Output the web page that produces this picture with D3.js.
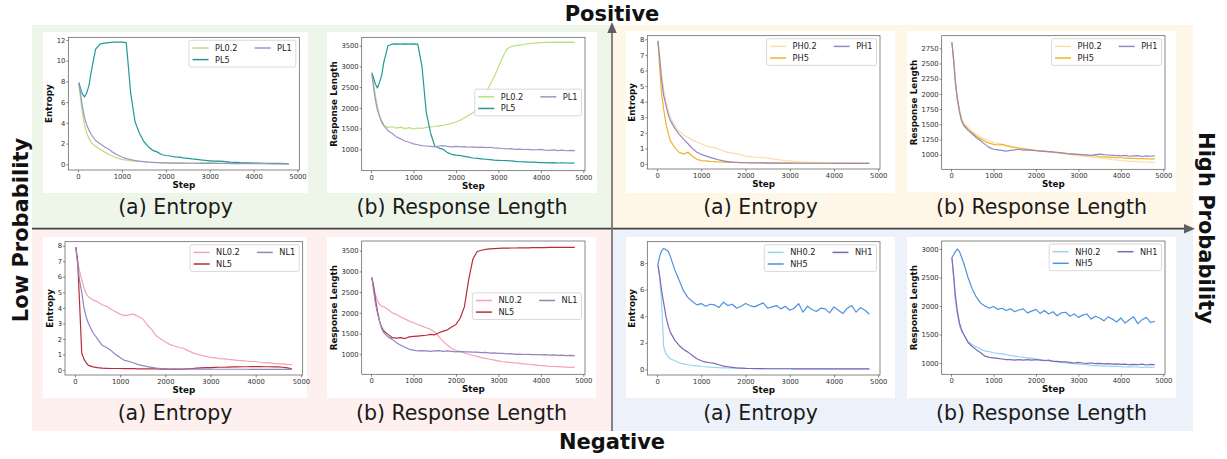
<!DOCTYPE html>
<html>
<head>
<meta charset="utf-8">
<script src="https://cdn.jsdelivr.net/npm/d3@7"></script>
<style>
  body { margin: 0; background: #fff; }
  text { font-family: "DejaVu Sans", sans-serif; }
</style>
</head>
<body>
<svg id="fig" width="1227" height="459"></svg>
<script>
// training steps shared by every curve
const steps = [20, 60, 100, 150, 200, 250, 300, 400, 500, 600, 700, 800, 900, 1000, 1100, 1200, 1300, 1400, 1500, 1600, 1700, 1800, 1900, 2000, 2100, 2200, 2300, 2400, 2500, 2600, 2700, 2800, 2900, 3000, 3100, 3200, 3300, 3400, 3500, 3600, 3700, 3800, 3900, 4000, 4100, 4200, 4300, 4400, 4500, 4600, 4700, 4800];

// Positive / Low probability
const plEnt02 = [7.8, 6.3, 5.0, 3.8, 3.0, 2.5, 2.1, 1.75, 1.45, 1.2, 0.95, 0.75, 0.6, 0.48, 0.4, 0.35, 0.3, 0.27, 0.25, 0.22, 0.2, 0.18, 0.17, 0.15, 0.14, 0.14, 0.13, 0.12, 0.12, 0.11, 0.12, 0.13, 0.15, 0.18, 0.22, 0.28, 0.33, 0.2, 0.14, 0.12, 0.1, 0.1, 0.09, 0.09, 0.08, 0.08, 0.07, 0.07, 0.07, 0.06, 0.06, 0.05];
const plEnt1 = [7.8, 6.8, 5.6, 4.5, 3.8, 3.3, 2.9, 2.3, 2.0, 1.7, 1.45, 1.15, 0.9, 0.7, 0.55, 0.45, 0.36, 0.3, 0.25, 0.21, 0.18, 0.16, 0.14, 0.13, 0.12, 0.12, 0.11, 0.11, 0.1, 0.1, 0.1, 0.09, 0.09, 0.09, 0.08, 0.08, 0.08, 0.08, 0.07, 0.07, 0.07, 0.07, 0.06, 0.06, 0.06, 0.06, 0.06, 0.05, 0.05, 0.05, 0.05, 0.05];
const plEnt5 = [7.9, 7.3, 6.8, 6.5, 6.9, 7.6, 8.9, 11.1, 11.6, 11.7, 11.75, 11.8, 11.8, 11.8, 11.75, 6.9, 4.1, 3.0, 2.2, 1.7, 1.35, 1.2, 0.95, 0.85, 0.8, 0.72, 0.7, 0.62, 0.58, 0.52, 0.47, 0.42, 0.38, 0.34, 0.3, 0.3, 0.27, 0.24, 0.2, 0.18, 0.16, 0.15, 0.14, 0.12, 0.11, 0.1, 0.1, 0.09, 0.08, 0.08, 0.07, 0.06];
const plLen02 = [2800, 2600, 2300, 2050, 1800, 1640, 1570, 1530, 1545, 1510, 1535, 1500, 1525, 1490, 1515, 1505, 1530, 1540, 1550, 1565, 1580, 1600, 1630, 1660, 1700, 1760, 1820, 1880, 1970, 2150, 2350, 2550, 2750, 2980, 3220, 3420, 3480, 3500, 3515, 3530, 3550, 3560, 3570, 3575, 3580, 3580, 3585, 3580, 3585, 3580, 3585, 3580];
const plLen1 = [2800, 2500, 2200, 1950, 1800, 1680, 1580, 1450, 1380, 1300, 1250, 1200, 1170, 1130, 1110, 1090, 1080, 1070, 1060, 1080, 1090, 1070, 1060, 1070, 1060, 1065, 1050, 1060, 1045, 1055, 1040, 1050, 1035, 1030, 1020, 1010, 1015, 1000, 1005, 995, 1000, 985, 990, 1000, 980, 975, 985, 970, 980, 965, 975, 970];
const plLen5 = [2850, 2720, 2580, 2480, 2620, 2780, 3100, 3500, 3540, 3545, 3540, 3545, 3540, 3545, 3540, 3000, 1900, 1400, 1080, 1030, 1000, 920, 880, 860, 850, 830, 810, 790, 780, 770, 760, 750, 740, 735, 730, 725, 720, 710, 700, 695, 690, 690, 685, 680, 680, 675, 680, 670, 675, 670, 665, 670];

// Positive / High probability
const phEnt02 = [7.9, 6.9, 5.8, 4.8, 4.0, 3.5, 3.0, 2.5, 2.1, 1.85, 1.7, 1.55, 1.4, 1.3, 1.15, 1.1, 1.05, 0.95, 0.85, 0.75, 0.7, 0.65, 0.6, 0.5, 0.48, 0.45, 0.42, 0.4, 0.38, 0.33, 0.3, 0.25, 0.22, 0.2, 0.17, 0.15, 0.13, 0.12, 0.1, 0.1, 0.09, 0.08, 0.08, 0.07, 0.07, 0.08, 0.07, 0.06, 0.06, 0.05, 0.05, 0.05];
const phEnt1 = [7.9, 6.8, 5.5, 4.4, 3.8, 3.2, 2.8, 2.3, 1.9, 1.6, 1.3, 1.0, 0.75, 0.62, 0.52, 0.43, 0.35, 0.26, 0.2, 0.15, 0.12, 0.1, 0.09, 0.08, 0.07, 0.07, 0.07, 0.07, 0.06, 0.06, 0.06, 0.06, 0.06, 0.06, 0.05, 0.05, 0.05, 0.05, 0.05, 0.05, 0.05, 0.05, 0.05, 0.04, 0.04, 0.04, 0.04, 0.04, 0.04, 0.04, 0.04, 0.04];
const phEnt5 = [7.9, 6.2, 4.6, 3.5, 2.6, 2.0, 1.5, 1.05, 0.75, 0.65, 0.75, 0.5, 0.3, 0.22, 0.2, 0.17, 0.15, 0.13, 0.12, 0.11, 0.1, 0.1, 0.09, 0.09, 0.08, 0.08, 0.08, 0.07, 0.07, 0.07, 0.07, 0.06, 0.06, 0.06, 0.06, 0.06, 0.05, 0.05, 0.05, 0.05, 0.05, 0.05, 0.05, 0.05, 0.04, 0.04, 0.04, 0.04, 0.04, 0.04, 0.04, 0.04];
const phLen02 = [2850, 2600, 2250, 1950, 1750, 1600, 1520, 1450, 1380, 1330, 1290, 1260, 1230, 1200, 1190, 1170, 1150, 1140, 1120, 1110, 1100, 1090, 1080, 1070, 1060, 1050, 1045, 1035, 1030, 1020, 1010, 1000, 990, 985, 975, 970, 960, 950, 945, 935, 930, 920, 915, 905, 900, 895, 890, 885, 880, 880, 875, 870];
const phLen1 = [2850, 2550, 2200, 1900, 1700, 1550, 1480, 1400, 1340, 1280, 1230, 1170, 1120, 1090, 1080, 1070, 1060, 1070, 1080, 1090, 1075, 1080, 1070, 1065, 1060, 1055, 1050, 1045, 1040, 1030, 1020, 1015, 1010, 1005, 1000, 995, 990, 1000, 1010, 1000, 995, 990, 985, 980, 990, 975, 980, 985, 970, 980, 975, 980];
const phLen5 = [2850, 2580, 2220, 1920, 1720, 1560, 1500, 1420, 1360, 1300, 1260, 1220, 1190, 1170, 1160, 1170, 1150, 1130, 1120, 1110, 1100, 1090, 1080, 1070, 1065, 1060, 1050, 1040, 1035, 1030, 1025, 1015, 1010, 1000, 995, 990, 985, 980, 970, 965, 960, 955, 950, 950, 945, 940, 940, 935, 935, 930, 930, 930];

// Negative / Low probability
const nlEnt02 = [7.9, 7.0, 6.4, 5.8, 5.3, 4.9, 4.7, 4.5, 4.4, 4.2, 4.1, 3.9, 3.75, 3.6, 3.5, 3.55, 3.6, 3.45, 3.3, 2.9, 2.6, 2.2, 2.0, 1.8, 1.65, 1.55, 1.45, 1.4, 1.25, 1.12, 1.02, 0.95, 0.88, 0.82, 0.78, 0.74, 0.72, 0.68, 0.65, 0.62, 0.6, 0.58, 0.55, 0.55, 0.5, 0.48, 0.46, 0.43, 0.4, 0.4, 0.37, 0.35];
const nlEnt1 = [7.9, 6.8, 5.8, 5.0, 4.0, 3.4, 3.0, 2.4, 2.0, 1.6, 1.45, 1.25, 1.0, 0.8, 0.62, 0.55, 0.45, 0.35, 0.28, 0.22, 0.17, 0.13, 0.1, 0.09, 0.08, 0.08, 0.07, 0.07, 0.07, 0.06, 0.06, 0.06, 0.06, 0.06, 0.05, 0.05, 0.05, 0.05, 0.05, 0.05, 0.05, 0.05, 0.04, 0.04, 0.04, 0.04, 0.04, 0.04, 0.04, 0.04, 0.04, 0.04];
const nlEnt5 = [7.9, 7.0, 4.5, 1.1, 0.7, 0.45, 0.3, 0.2, 0.15, 0.12, 0.11, 0.1, 0.1, 0.1, 0.09, 0.09, 0.09, 0.08, 0.08, 0.08, 0.07, 0.07, 0.06, 0.05, 0.05, 0.04, 0.05, 0.06, 0.08, 0.1, 0.12, 0.14, 0.15, 0.16, 0.17, 0.18, 0.18, 0.19, 0.2, 0.2, 0.21, 0.21, 0.22, 0.22, 0.22, 0.21, 0.21, 0.2, 0.2, 0.18, 0.14, 0.08];
const nlLen02 = [2850, 2600, 2450, 2300, 2200, 2160, 2150, 2080, 2000, 1960, 1900, 1850, 1800, 1760, 1720, 1680, 1640, 1600, 1540, 1420, 1310, 1220, 1140, 1090, 1060, 1030, 1000, 970, 950, 920, 900, 880, 860, 840, 820, 810, 800, 790, 780, 770, 760, 750, 740, 730, 720, 710, 705, 700, 695, 690, 685, 690];
const nlLen1 = [2850, 2550, 2250, 2000, 1800, 1620, 1520, 1420, 1360, 1280, 1220, 1170, 1120, 1100, 1080, 1090, 1080, 1070, 1080, 1090, 1070, 1080, 1070, 1060, 1070, 1060, 1060, 1050, 1050, 1040, 1045, 1030, 1035, 1020, 1025, 1010, 1015, 1000, 1005, 995, 1000, 990, 995, 985, 990, 980, 985, 975, 980, 970, 975, 970];
const nlLen5 = [2850, 2650, 2350, 2050, 1800, 1650, 1560, 1480, 1400, 1390, 1400, 1380, 1420, 1430, 1440, 1450, 1460, 1480, 1470, 1520, 1560, 1590, 1660, 1720, 1870, 2150, 2800, 3300, 3480, 3510, 3530, 3545, 3550, 3555, 3560, 3560, 3565, 3565, 3570, 3570, 3570, 3575, 3575, 3575, 3575, 3580, 3580, 3580, 3580, 3580, 3580, 3580];

// Negative / High probability
const nhEnt02 = [7.8, 7.0, 5.2, 1.7, 1.2, 0.95, 0.8, 0.65, 0.5, 0.42, 0.35, 0.3, 0.27, 0.22, 0.2, 0.17, 0.15, 0.13, 0.12, 0.11, 0.1, 0.09, 0.08, 0.08, 0.07, 0.07, 0.06, 0.06, 0.06, 0.05, 0.05, 0.05, 0.05, 0.05, 0.04, 0.04, 0.04, 0.04, 0.04, 0.04, 0.04, 0.04, 0.03, 0.03, 0.03, 0.03, 0.03, 0.03, 0.03, 0.03, 0.03, 0.03];
const nhEnt1 = [7.9, 7.0, 6.0, 5.0, 4.0, 3.3, 2.8, 2.2, 1.8, 1.5, 1.3, 1.05, 0.8, 0.65, 0.55, 0.5, 0.45, 0.35, 0.25, 0.2, 0.15, 0.12, 0.1, 0.08, 0.07, 0.06, 0.06, 0.06, 0.05, 0.05, 0.05, 0.05, 0.05, 0.05, 0.04, 0.04, 0.04, 0.04, 0.04, 0.04, 0.04, 0.04, 0.04, 0.04, 0.04, 0.04, 0.04, 0.04, 0.04, 0.04, 0.04, 0.04];
const nhEnt5 = [7.9, 8.5, 8.9, 9.1, 9.0, 8.9, 8.5, 7.5, 6.7, 5.9, 5.4, 5.1, 4.85, 4.95, 4.75, 4.9, 4.85, 4.65, 5.05, 4.8, 4.9, 4.6, 4.75, 4.95, 4.8, 4.7, 4.85, 5.0, 4.6, 4.7, 4.8, 4.55, 4.75, 4.45, 4.6, 4.95, 4.3, 4.75, 4.5, 4.35, 4.6, 4.55, 4.25, 4.7, 4.45, 4.2, 4.6, 4.8, 4.3, 4.65, 4.45, 4.15];
const nhLen02 = [2850, 2500, 2100, 1850, 1650, 1550, 1500, 1380, 1320, 1280, 1240, 1210, 1200, 1180, 1170, 1160, 1150, 1130, 1120, 1110, 1100, 1090, 1080, 1070, 1060, 1050, 1040, 1030, 1020, 1010, 1000, 995, 990, 980, 975, 970, 960, 955, 950, 945, 945, 940, 940, 935, 930, 935, 930, 930, 925, 930, 925, 930];
const nhLen1 = [2850, 2550, 2200, 1900, 1700, 1580, 1500, 1360, 1290, 1230, 1180, 1120, 1100, 1090, 1080, 1070, 1060, 1060, 1050, 1060, 1050, 1060, 1050, 1060, 1050, 1040, 1050, 1030, 1030, 1020, 1020, 1010, 1000, 1010, 1000, 995, 1000, 990, 995, 985, 990, 980, 985, 975, 980, 970, 975, 970, 980, 965, 975, 970];
const nhLen5 = [2850, 2900, 2950, 3000, 2950, 2850, 2750, 2500, 2300, 2150, 2050, 2000, 1960, 1990, 1940, 1960, 1920, 1950, 1900, 1930, 1950, 1880, 1910, 1940, 1870, 1920, 1860, 1900, 1830, 1880, 1890, 1820, 1860, 1800, 1840, 1860, 1770, 1820, 1790, 1740, 1810, 1770, 1720, 1790, 1700, 1760, 1810, 1690, 1760, 1800, 1710, 1730];

// tick labels
const stepTicks = [0, 1000, 2000, 3000, 4000, 5000];
const entTicks12 = [0, 2, 4, 6, 8, 10, 12];
const entTicks8 = [0, 1, 2, 3, 4, 5, 6, 7, 8];
const entTicksEven = [0, 2, 4, 6, 8];
const lenTicks3500 = [1000, 1500, 2000, 2500, 3000, 3500];
const lenTicks2750 = [1000, 1250, 1500, 1750, 2000, 2250, 2500, 2750];
const lenTicks3000 = [1000, 1500, 2000, 2500, 3000];

const svg = d3.select("#fig");

// quadrant backgrounds
const quads = [
  { x: 32, y: 25, w: 580, h: 204, fill: "#eef6ea" },
  { x: 612, y: 25, w: 581, h: 204, fill: "#fef6e6" },
  { x: 32, y: 229, w: 580, h: 202, fill: "#fdf0ee" },
  { x: 612, y: 229, w: 581, h: 202, fill: "#edf2fa" }
];
svg.selectAll(".quad").data(quads).enter().append("rect")
  .attr("x", d => d.x).attr("y", d => d.y)
  .attr("width", d => d.w).attr("height", d => d.h)
  .attr("fill", d => d.fill);

const panels = [
  { box: [43, 32, 308, 193], ax: [68.3, 37.3, 299.3, 170], yDom: [-0.55, 12.26], yTicks: entTicks12,
    yLabel: "Entropy", legend: "upper", caption: "(a) Entropy", capY: 214,
    series: [["PL0.2", plEnt02, "#b9e07d"], ["PL5", plEnt5, "#1f9a95"], ["PL1", plEnt1, "#a092c8"]] },
  { box: [327, 32, 597, 193], ax: [361.7, 37.3, 585, 170.7], yDom: [484, 3703], yTicks: lenTicks3500,
    yLabel: "Response Length", legend: "center", caption: "(b) Response Length", capY: 214,
    series: [["PL0.2", plLen02, "#b9e07d"], ["PL5", plLen5, "#1f9a95"], ["PL1", plLen1, "#a092c8"]] },
  { box: [626, 31, 895, 193], ax: [647.3, 35.7, 880, 169], yDom: [-0.32, 8.23], yTicks: entTicks8,
    yLabel: "Entropy", legend: "upper", caption: "(a) Entropy", capY: 214,
    series: [["PH0.2", phEnt02, "#f8e0a5"], ["PH5", phEnt5, "#f1b22c"], ["PH1", phEnt1, "#9687c2"]] },
  { box: [907, 31, 1176, 192], ax: [941.7, 35.7, 1165, 169.3], yDom: [760, 2957], yTicks: lenTicks2750,
    yLabel: "Response Length", legend: "upper", caption: "(b) Response Length", capY: 214,
    series: [["PH0.2", phLen02, "#f8e0a5"], ["PH5", phLen5, "#f1b22c"], ["PH1", phLen1, "#9687c2"]] },
  { box: [43, 237, 307, 398], ax: [65, 241.7, 302.7, 375], yDom: [-0.32, 8.26], yTicks: entTicks8,
    yLabel: "Entropy", legend: "upper", caption: "(a) Entropy", capY: 420,
    series: [["NL0.2", nlEnt02, "#f6a0bb"], ["NL5", nlEnt5, "#b52d3f"], ["NL1", nlEnt1, "#9384be"]] },
  { box: [327, 237, 596, 398], ax: [361.7, 241, 585, 374.3], yDom: [517, 3734], yTicks: lenTicks3500,
    yLabel: "Response Length", legend: "center", caption: "(b) Response Length", capY: 420,
    series: [["NL0.2", nlLen02, "#f6a0bb"], ["NL5", nlLen5, "#b52d3f"], ["NL1", nlLen1, "#9384be"]] },
  { box: [626, 237, 895, 398], ax: [647.3, 241.7, 880, 375], yDom: [-0.42, 9.6], yTicks: entTicksEven,
    yLabel: "Entropy", legend: "upper", caption: "(a) Entropy", capY: 420,
    series: [["NH0.2", nhEnt02, "#95d5ef"], ["NH5", nhEnt5, "#4b93e0"], ["NH1", nhEnt1, "#7e68b5"]] },
  { box: [907, 237, 1176, 398], ax: [941.7, 241, 1165, 374.3], yDom: [802, 3140], yTicks: lenTicks3000,
    yLabel: "Response Length", legend: "upper", caption: "(b) Response Length", capY: 420,
    series: [["NH0.2", nhLen02, "#95d5ef"], ["NH5", nhLen5, "#4b93e0"], ["NH1", nhLen1, "#7e68b5"]] }
];

const plainFmt = d3.format("d");

panels.forEach(function(p, pi) {
  const [bx0, by0, bx1, by1] = p.box;
  const [ax0, ay0, ax1, ay1] = p.ax;
  const g = svg.append("g");

  g.append("rect").attr("x", bx0).attr("y", by0)
    .attr("width", bx1 - bx0).attr("height", by1 - by0).attr("fill", "#fff");

  const x = d3.scaleLinear().domain([-220, 5040]).range([ax0, ax1]);
  const y = d3.scaleLinear().domain(p.yDom).range([ay1, ay0]);

  g.append("clipPath").attr("id", "clip" + pi).append("rect")
    .attr("x", ax0).attr("y", ay0).attr("width", ax1 - ax0).attr("height", ay1 - ay0);

  const line = d3.line()
    .x((d, i) => x(steps[i]))
    .y(d => y(d));

  g.append("g").attr("clip-path", "url(#clip" + pi + ")")
    .selectAll("path").data(p.series).enter().append("path")
    .attr("d", d => line(d[1]))
    .attr("fill", "none")
    .attr("stroke", d => d[2])
    .attr("stroke-width", 1.2)
    .attr("stroke-linejoin", "round");

  // frame
  g.append("rect").attr("x", ax0).attr("y", ay0)
    .attr("width", ax1 - ax0).attr("height", ay1 - ay0)
    .attr("fill", "none").attr("stroke", "#555").attr("stroke-width", 0.7);

  const xAxis = g.append("g").attr("transform", "translate(0," + ay1 + ")")
    .call(d3.axisBottom(x).tickValues(stepTicks).tickFormat(plainFmt).tickSize(2.5).tickPadding(1.5));
  const yAxis = g.append("g").attr("transform", "translate(" + ax0 + ",0)")
    .call(d3.axisLeft(y).tickValues(p.yTicks).tickFormat(plainFmt).tickSize(2).tickPadding(1));
  [xAxis, yAxis].forEach(function(a) {
    a.select(".domain").remove();
    a.selectAll("line").attr("stroke", "#555").attr("stroke-width", 0.7);
    a.selectAll("text").attr("font-family", "DejaVu Sans").attr("font-size", 6.8).attr("fill", "#333");
    a.attr("font-size", null).attr("font-family", null);
  });

  // axis labels
  g.append("text")
    .attr("x", (ax0 + ax1) / 2).attr("y", ay1 + 18)
    .attr("text-anchor", "middle")
    .attr("font-size", 8.8).attr("font-weight", "bold").attr("fill", "#111")
    .text("Step");

  // rotated label: baseline sits on the right, just clear of the tick labels
  const yb = yAxis.node().getBBox();
  const labelBase = ax0 + yb.x - 4.5;
  g.append("text")
    .attr("transform", "translate(" + labelBase + "," + ((ay0 + ay1) / 2) + ") rotate(-90)")
    .attr("text-anchor", "middle")
    .attr("font-size", 8.8).attr("font-weight", "bold").attr("fill", "#111")
    .text(p.yLabel);

  // legend: two columns, first column gets the first two series
  const leg = g.append("g");
  const legBox = leg.append("rect");
  const fs = 8.2, sampleLen = 16;
  const items = leg.selectAll(".item").data(p.series).enter().append("g");
  items.append("line").attr("stroke", d => d[2]).attr("stroke-width", 1.5)
    .attr("x1", 0).attr("x2", sampleLen).attr("y1", 0).attr("y2", 0);
  items.append("text").attr("x", sampleLen + 6.5).attr("dy", "0.36em")
    .attr("font-size", fs).attr("fill", "#222").text(d => d[0]);
  const widths = items.select("text").nodes().map(n => n.getComputedTextLength());
  const col1W = Math.max(widths[0], widths[1]);
  const col2X = 3.5 + sampleLen + 6.5 + col1W + 17;
  const legW = col2X + sampleLen + 6.5 + widths[2] + 4;
  const legH = 26.7;
  items.attr("transform", (d, i) => {
    const cx = i < 2 ? 3.5 : col2X;
    const cy = i === 1 ? 19.3 : 7.7;
    return "translate(" + cx + "," + cy + ")";
  });
  legBox.attr("width", legW).attr("height", legH).attr("rx", 2)
    .attr("fill", "#fff").attr("fill-opacity", 0.85)
    .attr("stroke", "#cfcfcf").attr("stroke-width", 0.8);
  const lx = ax1 - 3.5 - legW;
  const ly = p.legend === "upper" ? ay0 + 3 : (ay0 + ay1) / 2 - legH / 2 - 1.5;
  leg.attr("transform", "translate(" + lx + "," + ly + ")");

  // caption
  svg.append("text")
    .attr("x", (bx0 + bx1) / 2).attr("y", p.capY)
    .attr("text-anchor", "middle")
    .attr("font-family", "Open Sans").attr("font-size", 20.5).attr("fill", "#1a1a1a")
    .text(p.caption);
});

// probability / sign axes
const arrowColor = "#5f5f5f";
svg.append("line").attr("x1", 32).attr("y1", 228.7).attr("x2", 1186).attr("y2", 228.7)
  .attr("stroke", "#444").attr("stroke-width", 1.8);
svg.append("path").attr("d", "M1195,228.7 L1184,224 L1184,233.4 Z").attr("fill", arrowColor);
svg.append("line").attr("x1", 612).attr("y1", 431).attr("x2", 612).attr("y2", 32)
  .attr("stroke", "#777").attr("stroke-width", 1.8);
svg.append("path").attr("d", "M612,22 L607.3,33 L616.7,33 Z").attr("fill", arrowColor);

const bigLabel = { "font-family": "Open Sans", "font-size": 21, "font-weight": "bold", "fill": "#111" };
function addBig(text, transform) {
  const t = svg.append("text").attr("transform", transform).attr("text-anchor", "middle").text(text);
  Object.keys(bigLabel).forEach(k => t.attr(k, bigLabel[k]));
}
addBig("Positive", "translate(612,21)");
addBig("Negative", "translate(612,449)");
addBig("Low Probability", "translate(28,230) rotate(-90)");
addBig("High Probability", "translate(1199,228) rotate(90)");
</script>
</body>
</html>
